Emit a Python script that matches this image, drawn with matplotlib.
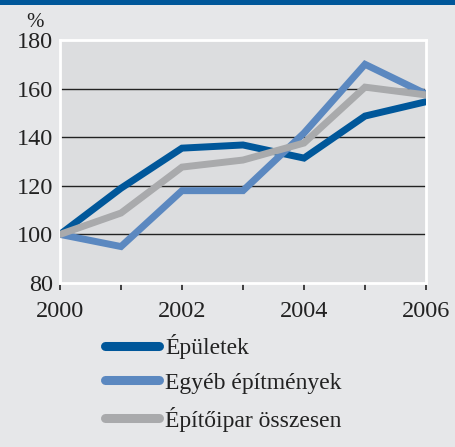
import matplotlib.pyplot as plt
from matplotlib.lines import Line2D

years = [2000, 2001, 2002, 2003, 2004, 2005, 2006]
epuletek = [100, 119, 135.5, 136.8, 131.4, 148.7, 154.6]
egyeb = [100, 95, 118, 118, 141.7, 170, 157.8]
osszesen = [100, 108.8, 127.7, 130.6, 137.6, 160.6, 157.4]

series_labels = ['Épületek', 'Egyéb építmények', 'Építőipar összesen']
colors = ['#00579a', '#5b88c0', '#a9aaac']

plt.rcParams['font.family'] = ['Liberation Serif', 'DejaVu Serif']

fig = plt.figure(figsize=(4.55, 4.47), dpi=100, facecolor='#e6e7e9')
# blue strip across the top
fig.add_artist(plt.Rectangle((0, 1 - 5 / 447), 1, 5 / 447, transform=fig.transFigure,
                             color='#00579a', lw=0))

ax = fig.add_axes([60 / 455, 1 - 283 / 447, 366 / 455, 243 / 447])
ax.set_facecolor('#dcdddf')
for s in ax.spines.values():
    s.set_color('white')
    s.set_linewidth(2)

for y in [100, 120, 140, 160]:
    ax.axhline(y, color='#222222', lw=1, zorder=1)

for vals, c in zip([epuletek, egyeb, osszesen], colors):
    ax.plot(years, vals, color=c, lw=5, solid_joinstyle='miter', solid_capstyle='round', zorder=3)

ax.set_xlim(2000, 2006)
ax.set_ylim(80, 180)
ax.set_yticks([80, 100, 120, 140, 160, 180])
ax.set_xticks(years)
ax.set_xticklabels(['2000', '', '2002', '', '2004', '', '2006'])
ax.tick_params(axis='y', length=0, pad=5, labelsize=17.5, colors='#222222')
ax.tick_params(axis='x', length=5, width=1.2, color='#222222', pad=8, labelsize=17.5,
               labelcolor='#222222')
fig.text(26 / 455, 1 - 32 / 447, '%', fontsize=15, color='#222222', ha='left', va='bottom')

handles = [Line2D([], [], color=c, lw=6.5, solid_capstyle='round') for c in colors]
fig.legend(handles, series_labels, loc='upper left', bbox_to_anchor=(105 / 455, 1 - 334 / 447),
           frameon=False, fontsize=17, handlelength=2.3, handletextpad=0.25, labelspacing=0.55,
           borderpad=0, borderaxespad=0, labelcolor='#222222')

fig.savefig('out.png', dpi=100, facecolor=fig.get_facecolor())
